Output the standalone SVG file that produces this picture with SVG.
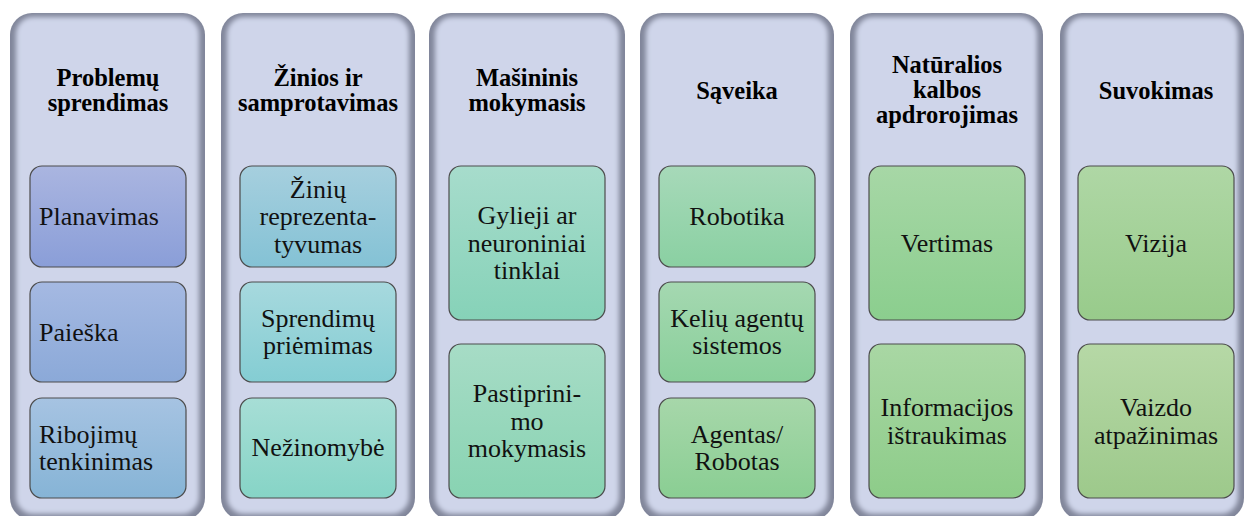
<svg xmlns="http://www.w3.org/2000/svg" width="1245" height="516" viewBox="0 0 1245 516">
  <defs>
    <style>
      .rim { fill: #81869A; }
      .face { fill: #CFD5EA; filter: url(#soft); }
      .box { stroke: #4C4C4C; stroke-width: 1.2; }
      .hd { font-weight: bold; font-size: 24.5px; fill: #000; text-anchor: middle; }
      .tx { font-size: 26px; fill: #111; text-anchor: middle; }
      .tl { text-anchor: start; }
    </style>
    <!-- softens the light face so the darker rim fades inward like a bevel -->
    <filter id="soft" x="-10%" y="-10%" width="120%" height="120%">
      <feGaussianBlur stdDeviation="2.8"/>
    </filter>
    <linearGradient id="g11" x1="0" y1="0" x2="0" y2="1"><stop offset="0" stop-color="#AAB5E0"/><stop offset="1" stop-color="#8A9ED8"/></linearGradient>
    <linearGradient id="g12" x1="0" y1="0" x2="0" y2="1"><stop offset="0" stop-color="#A5B9E2"/><stop offset="1" stop-color="#8BA9D8"/></linearGradient>
    <linearGradient id="g13" x1="0" y1="0" x2="0" y2="1"><stop offset="0" stop-color="#A6C3E2"/><stop offset="1" stop-color="#86B4D6"/></linearGradient>
    <linearGradient id="g21" x1="0" y1="0" x2="0" y2="1"><stop offset="0" stop-color="#A6CFDE"/><stop offset="1" stop-color="#84C2D5"/></linearGradient>
    <linearGradient id="g22" x1="0" y1="0" x2="0" y2="1"><stop offset="0" stop-color="#A7D9DE"/><stop offset="1" stop-color="#84CDD3"/></linearGradient>
    <linearGradient id="g23" x1="0" y1="0" x2="0" y2="1"><stop offset="0" stop-color="#A7DED6"/><stop offset="1" stop-color="#86D4C6"/></linearGradient>
    <linearGradient id="g31" x1="0" y1="0" x2="0" y2="1"><stop offset="0" stop-color="#A7DCCC"/><stop offset="1" stop-color="#86D2B8"/></linearGradient>
    <linearGradient id="g32" x1="0" y1="0" x2="0" y2="1"><stop offset="0" stop-color="#A7DCC6"/><stop offset="1" stop-color="#88D3B2"/></linearGradient>
    <linearGradient id="g41" x1="0" y1="0" x2="0" y2="1"><stop offset="0" stop-color="#A7D9B9"/><stop offset="1" stop-color="#8AD0A2"/></linearGradient>
    <linearGradient id="g42" x1="0" y1="0" x2="0" y2="1"><stop offset="0" stop-color="#A5D8B1"/><stop offset="1" stop-color="#89CF9A"/></linearGradient>
    <linearGradient id="g43" x1="0" y1="0" x2="0" y2="1"><stop offset="0" stop-color="#A7D7AA"/><stop offset="1" stop-color="#8ACE93"/></linearGradient>
    <linearGradient id="g51" x1="0" y1="0" x2="0" y2="1"><stop offset="0" stop-color="#A7D7A6"/><stop offset="1" stop-color="#8BCE8E"/></linearGradient>
    <linearGradient id="g52" x1="0" y1="0" x2="0" y2="1"><stop offset="0" stop-color="#A9D7A4"/><stop offset="1" stop-color="#8DCC89"/></linearGradient>
    <linearGradient id="g61" x1="0" y1="0" x2="0" y2="1"><stop offset="0" stop-color="#AFD7A5"/><stop offset="1" stop-color="#98CB8B"/></linearGradient>
    <linearGradient id="g62" x1="0" y1="0" x2="0" y2="1"><stop offset="0" stop-color="#B6D8A6"/><stop offset="1" stop-color="#9DC98B"/></linearGradient>
  </defs>

  <rect width="1245" height="516" fill="#FFFFFF"/>

  <!-- Column 1 -->
  <g id="col-problemu-sprendimas">
    <rect class="rim" x="10" y="13" width="195" height="507" rx="22"/>
    <rect class="face" x="16" y="17" width="183" height="497" rx="17"/>
    <text class="hd" font-family="Liberation Serif" x="108" y="86">Problemų</text>
    <text class="hd" font-family="Liberation Serif" x="108" y="111">sprendimas</text>
    <g id="n-planavimas">
      <rect class="box" x="30" y="166" width="156" height="101" rx="12" fill="url(#g11)"/>
      <text class="tx tl" font-family="Liberation Serif" x="39" y="225">Planavimas</text>
    </g>
    <g id="n-paieska">
      <rect class="box" x="30" y="282" width="156" height="100" rx="12" fill="url(#g12)"/>
      <text class="tx tl" font-family="Liberation Serif" x="39" y="340.5">Paieška</text>
    </g>
    <g id="n-ribojimu">
      <rect class="box" x="30" y="398" width="156" height="100" rx="12" fill="url(#g13)"/>
      <text class="tx tl" font-family="Liberation Serif" x="39" y="442.5">Ribojimų</text>
      <text class="tx tl" font-family="Liberation Serif" x="39" y="470">tenkinimas</text>
    </g>
  </g>

  <!-- Column 2 -->
  <g id="col-zinios">
    <rect class="rim" x="221" y="13" width="194" height="507" rx="22"/>
    <rect class="face" x="227" y="17" width="182" height="497" rx="17"/>
    <text class="hd" font-family="Liberation Serif" x="318" y="86">Žinios ir</text>
    <text class="hd" font-family="Liberation Serif" x="318" y="111">samprotavimas</text>
    <g id="n-reprezentatyvumas">
      <rect class="box" x="240" y="166" width="156" height="101" rx="12" fill="url(#g21)"/>
      <text class="tx" font-family="Liberation Serif" x="318" y="197.5">Žinių</text>
      <text class="tx" font-family="Liberation Serif" x="318" y="225">reprezenta-</text>
      <text class="tx" font-family="Liberation Serif" x="318" y="252.5">tyvumas</text>
    </g>
    <g id="n-sprendimu">
      <rect class="box" x="240" y="282" width="156" height="100" rx="12" fill="url(#g22)"/>
      <text class="tx" font-family="Liberation Serif" x="318" y="326.5">Sprendimų</text>
      <text class="tx" font-family="Liberation Serif" x="318" y="354">priėmimas</text>
    </g>
    <g id="n-nezinomybe">
      <rect class="box" x="240" y="398" width="156" height="100" rx="12" fill="url(#g23)"/>
      <text class="tx" font-family="Liberation Serif" x="318" y="456">Nežinomybė</text>
    </g>
  </g>

  <!-- Column 3 -->
  <g id="col-masininis">
    <rect class="rim" x="429" y="13" width="196" height="507" rx="22"/>
    <rect class="face" x="435" y="17" width="184" height="497" rx="17"/>
    <text class="hd" font-family="Liberation Serif" x="527" y="86">Mašininis</text>
    <text class="hd" font-family="Liberation Serif" x="527" y="111">mokymasis</text>
    <g id="n-gilieji">
      <rect class="box" x="449" y="166" width="156" height="154" rx="12" fill="url(#g31)"/>
      <text class="tx" font-family="Liberation Serif" x="527" y="224">Gylieji ar</text>
      <text class="tx" font-family="Liberation Serif" x="527" y="251.5">neuroniniai</text>
      <text class="tx" font-family="Liberation Serif" x="527" y="279">tinklai</text>
    </g>
    <g id="n-pastiprinimo">
      <rect class="box" x="449" y="344" width="156" height="154" rx="12" fill="url(#g32)"/>
      <text class="tx" font-family="Liberation Serif" x="527" y="402">Pastiprini-</text>
      <text class="tx" font-family="Liberation Serif" x="527" y="429.5">mo</text>
      <text class="tx" font-family="Liberation Serif" x="527" y="457">mokymasis</text>
    </g>
  </g>

  <!-- Column 4 -->
  <g id="col-saveika">
    <rect class="rim" x="640" y="13" width="194" height="507" rx="22"/>
    <rect class="face" x="646" y="17" width="182" height="497" rx="17"/>
    <text class="hd" font-family="Liberation Serif" x="737" y="99">Sąveika</text>
    <g id="n-robotika">
      <rect class="box" x="659" y="166" width="156" height="101" rx="12" fill="url(#g41)"/>
      <text class="tx" font-family="Liberation Serif" x="737" y="225">Robotika</text>
    </g>
    <g id="n-keliu-agentu">
      <rect class="box" x="659" y="282" width="156" height="100" rx="12" fill="url(#g42)"/>
      <text class="tx" font-family="Liberation Serif" x="737" y="326.5">Kelių agentų</text>
      <text class="tx" font-family="Liberation Serif" x="737" y="354">sistemos</text>
    </g>
    <g id="n-agentas">
      <rect class="box" x="659" y="398" width="156" height="100" rx="12" fill="url(#g43)"/>
      <text class="tx" font-family="Liberation Serif" x="737" y="442.5">Agentas/</text>
      <text class="tx" font-family="Liberation Serif" x="737" y="470">Robotas</text>
    </g>
  </g>

  <!-- Column 5 -->
  <g id="col-naturalios">
    <rect class="rim" x="850" y="13" width="193" height="507" rx="22"/>
    <rect class="face" x="856" y="17" width="181" height="497" rx="17"/>
    <text class="hd" font-family="Liberation Serif" x="947" y="73">Natūralios</text>
    <text class="hd" font-family="Liberation Serif" x="947" y="98">kalbos</text>
    <text class="hd" font-family="Liberation Serif" x="947" y="123">apdrorojimas</text>
    <g id="n-vertimas">
      <rect class="box" x="869" y="166" width="156" height="154" rx="12" fill="url(#g51)"/>
      <text class="tx" font-family="Liberation Serif" x="947" y="251.5">Vertimas</text>
    </g>
    <g id="n-informacijos">
      <rect class="box" x="869" y="344" width="156" height="154" rx="12" fill="url(#g52)"/>
      <text class="tx" font-family="Liberation Serif" x="947" y="416">Informacijos</text>
      <text class="tx" font-family="Liberation Serif" x="947" y="443.5">ištraukimas</text>
    </g>
  </g>

  <!-- Column 6 -->
  <g id="col-suvokimas">
    <rect class="rim" x="1060" y="13" width="184" height="507" rx="22"/>
    <rect class="face" x="1066" y="17" width="172" height="497" rx="17"/>
    <text class="hd" font-family="Liberation Serif" x="1156" y="99">Suvokimas</text>
    <g id="n-vizija">
      <rect class="box" x="1078" y="166" width="156" height="154" rx="12" fill="url(#g61)"/>
      <text class="tx" font-family="Liberation Serif" x="1156" y="251.5">Vizija</text>
    </g>
    <g id="n-vaizdo">
      <rect class="box" x="1078" y="344" width="156" height="154" rx="12" fill="url(#g62)"/>
      <text class="tx" font-family="Liberation Serif" x="1156" y="416">Vaizdo</text>
      <text class="tx" font-family="Liberation Serif" x="1156" y="443.5">atpažinimas</text>
    </g>
  </g>

  <!-- no connectors in this diagram -->
  <g id="connectors"/>
</svg>
